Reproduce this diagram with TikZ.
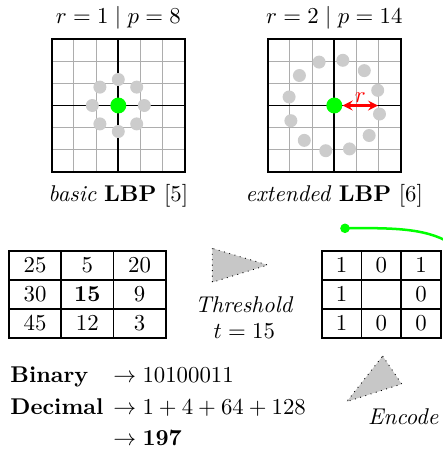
\documentclass[tikz,border=0pt]{standalone}
\usetikzlibrary{positioning,matrix}
\begin{document}
\begin{tikzpicture}[x=0.4386pt, y=-0.4386pt, >=stealth,
  finegrid/.style={draw=black!32, line width=0.4pt},
  boldgrid/.style={draw=black, line width=0.8pt},
  frame/.style={boldgrid, minimum size=58.3pt, inner sep=0pt},
  sample/.style={fill=black!20},
  centre/.style={circle, fill=green, inner sep=0pt, minimum size=7pt},
  cell/.style={draw, line width=0.8pt, inner sep=0pt, minimum height=12.7pt, anchor=center},
  wedge/.style={fill=black!22, draw=black, dotted, line width=0.4pt}]
\useasboundingbox (0,0) rectangle (443,452);

% sampling grids
\foreach \cx in {118.3,334.3} {
  \foreach \k in {-2,...,2} {
    \draw[finegrid] ({\cx+22.2*\k},39) -- ({\cx+22.2*\k},172);
    \draw[finegrid] ({\cx-66.6},{105.5+22.2*\k}) -- ({\cx+66.6},{105.5+22.2*\k});
  }
}
\node[frame] (g1) at (118.3,105.5) {};
\node[frame] (g2) at (334.3,105.5) {};
\draw[boldgrid] (g1.north) -- (g1.south) (g1.west) -- (g1.east);
\draw[boldgrid] (g2.north) -- (g2.south) (g2.west) -- (g2.east);

\foreach \a in {0,45,...,315}
  \fill[sample] ({118.3+26*cos(\a)},{105.5+26*sin(\a)}) circle[radius=2.85pt];
\foreach \a in {10.7,40.7,...,340.7}
  \fill[sample] ({334.3+46*cos(\a)},{105.5+46*sin(\a)}) circle[radius=2.85pt];

\node[centre] (c1) at (g1) {};
\node[centre] (c2) at (g2) {};
\coordinate (rend) at (378,105.5);
\draw[<->, red, line width=0.9pt] (c2) -- node[above, inner sep=1pt] {$r$} (rend);

\node[above=0.5pt of g1] (t1) {$r = 1 \mid p = 8$};
\node[above=0.5pt of g2] (t2) {$r = 2 \mid p = 14$};
\node[below=1.5pt of g1] (cap1) {\textit{basic} \textbf{LBP} [5]};
\node[below=1.5pt of g2] (cap2) {\textit{extended} \textbf{LBP} [6]};

% neighbourhood and its threshold
\matrix (vals) [matrix of nodes, nodes={cell, minimum width=22.9pt},
  column sep=-0.8pt, row sep=-0.8pt] at (87.35,294.3) {
  25 & 5 & 20\\
  30 & \textbf{15} & 9\\
  45 & 12 & 3\\};
\matrix (bits) [matrix of nodes, nodes in empty cells, nodes={cell, minimum width=17.4pt},
  column sep=-0.8pt, row sep=-0.8pt] at (381.3,294.3) {
  1 & 0 & 1\\
  1 &   & 0\\
  1 & 0 & 0\\};

\path[wedge] (212.3,248.3) -- (212.3,282.3) -- (267.7,265) -- cycle;
\path[wedge] (382.7,356) -- (401.7,384) -- (346.7,401.7) -- cycle;
\node[align=center] (thr) at (244.3,317.6) {\textit{Threshold}\\[-0.8pt]$t=15$};
\node (enc) at (403.3,417) {\textit{Encode}};

\node[circle, fill=green, inner sep=0pt, minimum size=4.2pt] (gdot) at (345,228.3) {};
\coordinate (gend) at (455,246);
\draw[green, line width=1.1pt] (gdot.center) .. controls (400,227.5) and (430,229) .. (gend);

\node[anchor=west, inner sep=0pt] (code) at (10,408) {\renewcommand\arraystretch{1.15}%
  \begin{tabular}{@{}l@{\hspace{4.4pt}}l@{}}
  \textbf{Binary} & $\rightarrow 10100011$\\
  \textbf{Decimal} & $\rightarrow 1+4+64+128$\\
  & $\rightarrow \mathbf{197}$
  \end{tabular}};
\end{tikzpicture}
\end{document}
